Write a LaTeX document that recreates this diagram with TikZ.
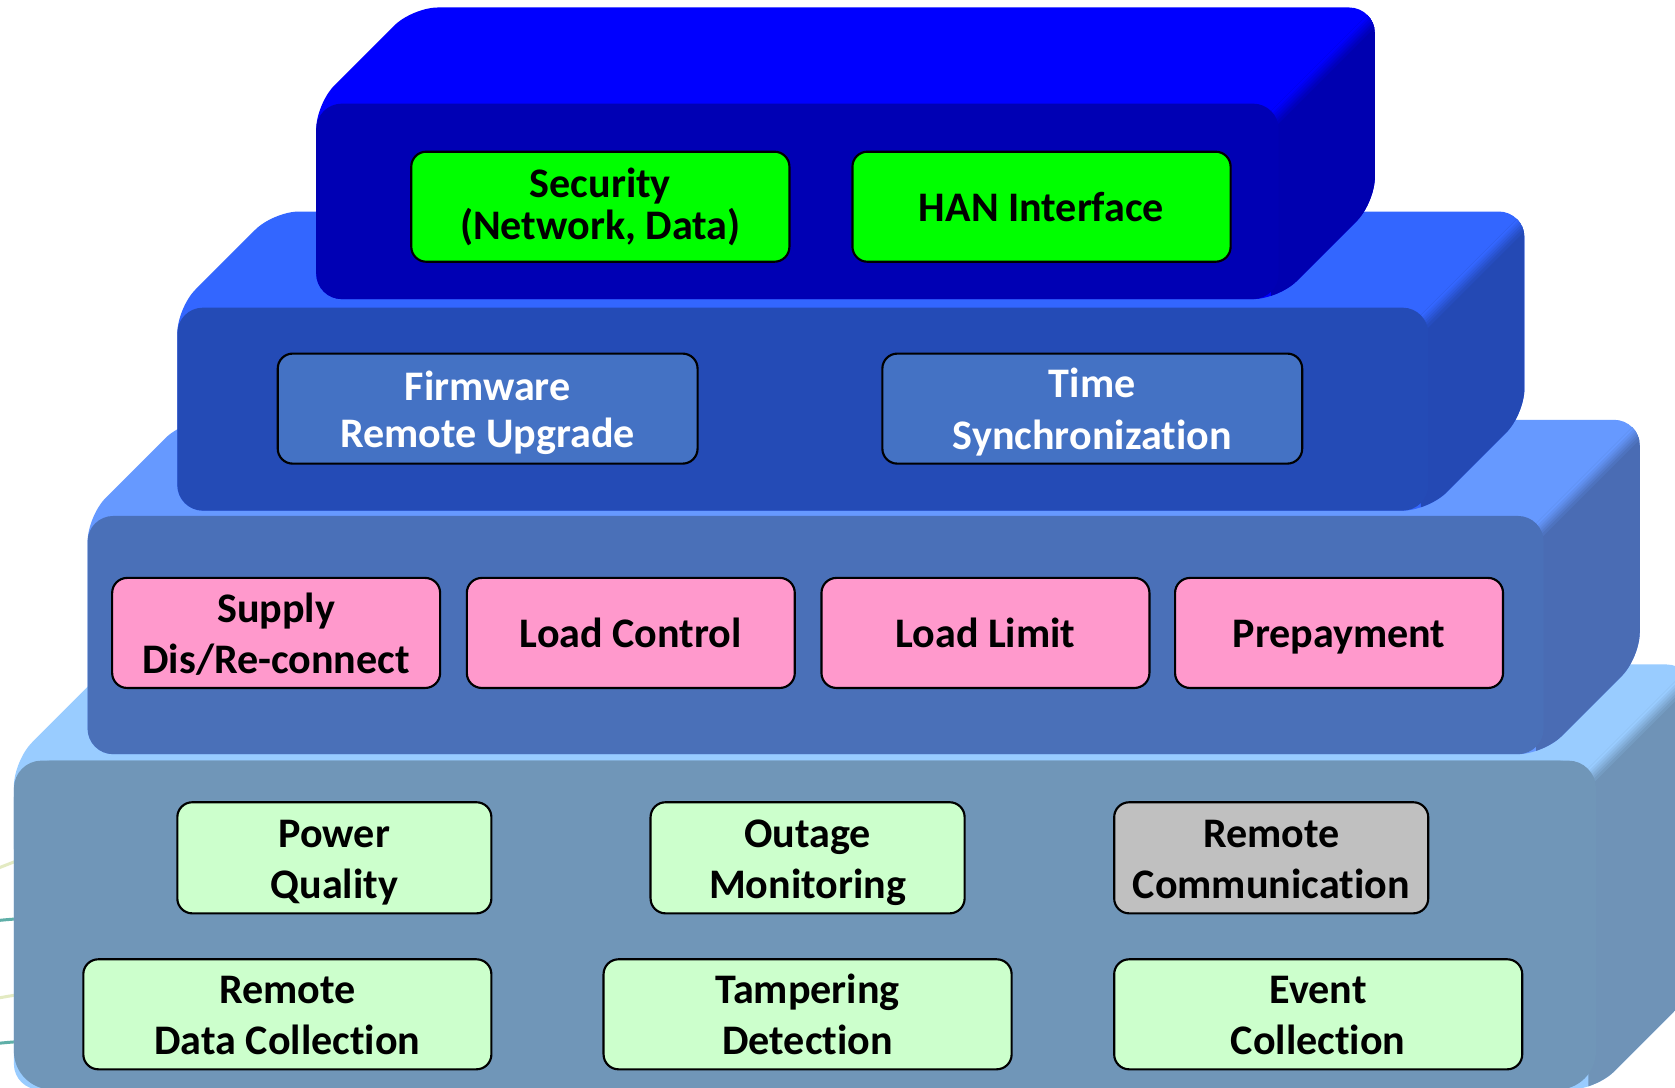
\documentclass[tikz,border=0pt]{standalone}
\usepackage{fontspec}
\setmainfont{Carlito}[Ligatures={NoCommon,NoContextual}]
\definecolor{topA}{HTML}{99CCFF}\definecolor{sideA}{HTML}{6F93B7}\definecolor{frontA}{HTML}{7096B8}
\definecolor{topB}{HTML}{6699FF}\definecolor{sideB}{HTML}{4A6CB4}\definecolor{frontB}{HTML}{4A70B8}
\definecolor{topC}{HTML}{3366FF}\definecolor{sideC}{HTML}{2449B4}\definecolor{frontC}{HTML}{244BB6}
\definecolor{topD}{HTML}{0000FF}\definecolor{sideD}{HTML}{0000B0}\definecolor{frontD}{HTML}{0000B4}
\definecolor{boxgreen}{HTML}{00FF00}
\definecolor{boxblue}{HTML}{4472C4}
\definecolor{boxpink}{HTML}{FF99CC}
\definecolor{boxlight}{HTML}{CCFFCC}
\definecolor{boxgray}{HTML}{C0C0C0}
\definecolor{lineyellow}{HTML}{E3EAC2}
\definecolor{lineteal}{HTML}{5FAFA8}
\newcommand\lnstrut{\rule[-10pt]{0pt}{48pt}}
% soft bevel band along the diagonal top edge of a right face
% #1 R, #2 T, #3 d, #4 top colour, #5 side colour
\newcommand\bevelband[5]{%
  \foreach \i in {0,...,5}{%
    \pgfmathtruncatemacro\pc{100-\i*17}%
    \pgfmathsetmacro\ca{#1+#2+\i*3}%
    \pgfmathsetmacro\cb{#1+#2+\i*3+3.6}%
    \fill[#4!\pc!#5] ({#1-30},{\ca-#1+30}) -- ({#1+#3+40},{\ca-#1-#3-40}) -- ({#1+#3+40},{\cb-#1-#3-40}) -- ({#1-30},{\cb-#1+30}) -- cycle;
  }%
}
% #1 L, #2 T, #3 R, #4 B, #5 top, #6 side, #7 front
\newcommand\drawlayer[7]{%
  \begin{scope}
    \fill[#5, rounded corners=24pt] (#1,#4) -- (#1,#2) -- ({#1+90},{#2-90}) -- ({#3+90},{#2-90}) -- ({#3+90},{#4-90}) -- (#3,#4) -- cycle;
    \clip[rounded corners=24pt] (#1,#4) -- (#1,#2) -- ({#1+90},{#2-90}) -- ({#3+90},{#2-90}) -- ({#3+90},{#4-90}) -- (#3,#4) -- cycle;
    \fill[#6] ({#3-7},{#2+7}) -- ({#3+110},{#2-110}) -- ({#3+110},#4) -- ({#3-7},#4) -- cycle;
    \bevelband{#3}{#2}{90}{#5}{#6}
  \end{scope}
  \fill[#7, rounded corners=24pt] (#1,#2) rectangle (#3,#4);
}
\begin{document}
\begin{tikzpicture}[x=1pt,y=-1pt,
  box/.style={draw=black, line width=2pt, rounded corners=14pt, align=center,
    font=\fontsize{39.4}{48}\selectfont\bfseries, inner sep=0pt, text=black},
  wbox/.style={box, text=white, fill=boxblue},
  edgeline/.style={line width=2.8pt, line cap=round}]
\useasboundingbox (0,0) rectangle (1568,1018);
\fill[white] (0,0) rectangle (1568,1018);
% faint background curves at the left edge
\draw[edgeline, lineyellow] (-5,814) .. controls (5,810) .. (18,805);
\draw[edgeline, lineteal] (-5,862) .. controls (5,861) .. (18,860);
\draw[edgeline, lineyellow] (-5,935) .. controls (5,933) .. (18,931);
\draw[edgeline, lineteal] (-5,977) .. controls (5,976) .. (18,975);
% layer 1 (bottom)
\begin{scope}
  \fill[topA, rounded corners=24pt] (13,1020) -- (13,712) -- (103,622) -- (1584,622) -- (1584,930) -- (1494,1020) -- cycle;
  \clip[rounded corners=24pt] (13,1020) -- (13,712) -- (103,622) -- (1584,622) -- (1584,930) -- (1494,1020) -- cycle;
  \fill[sideA] (1487,719) -- (1604,602) -- (1604,1030) -- (1487,1030) -- cycle;
  \bevelband{1494}{712}{90}{topA}{sideA}
\end{scope}
\fill[frontA, rounded corners=36pt] (13,712) rectangle (1494,1020);
\fill[frontA, rounded corners=26pt] (13,712) rectangle (1494,820);
% layer 2
\drawlayer{82}{483}{1445}{706}{topB}{sideB}{frontB}
% layer 3
\drawlayer{166}{288}{1337}{478}{topC}{sideC}{frontC}
% layer 4 (top)
\drawlayer{296}{97}{1197}{280}{topD}{sideD}{frontD}
% layer 4 boxes
\node[box, fill=boxgreen, minimum width=354pt, minimum height=103pt] (sec) at (562,193.5) {Security\\[-9pt](Network, Data)};
\node[box, fill=boxgreen, minimum width=354pt, minimum height=103pt] (han) at (975,193.5) {\lnstrut HAN Interface};
% layer 3 boxes
\node[wbox, minimum width=393pt, minimum height=103pt] (fw) at (456.5,382.5) {\lnstrut Firmware\\[-4pt]\lnstrut Remote Upgrade};
\node[wbox, minimum width=393pt, minimum height=103pt] (ts) at (1022.5,382.5) {\lnstrut Time\\\lnstrut Synchronization};
% layer 2 boxes
\node[box, fill=boxpink, minimum width=307pt, minimum height=103pt] (sup) at (258.5,592.5) {\lnstrut Supply\\\lnstrut Dis/Re-connect};
\node[box, fill=boxpink, minimum width=307pt, minimum height=103pt] (lc) at (590.5,592.5) {\lnstrut Load Control};
\node[box, fill=boxpink, minimum width=307pt, minimum height=103pt] (ll) at (922.5,592.5) {\lnstrut Load Limit};
\node[box, fill=boxpink, minimum width=307pt, minimum height=103pt] (pp) at (1253.5,592.5) {\lnstrut Prepayment};
% layer 1 boxes
\node[box, fill=boxlight, minimum width=294pt, minimum height=104pt] (pq) at (313,803) {\lnstrut Power\\\lnstrut Quality};
\node[box, fill=boxlight, minimum width=294pt, minimum height=104pt] (om) at (756,803) {\lnstrut Outage\\\lnstrut Monitoring};
\node[box, fill=boxgray, minimum width=294pt, minimum height=104pt] (rc) at (1190,803) {\lnstrut Remote\\\lnstrut Communication};
\node[box, fill=boxlight, minimum width=382pt, minimum height=103pt] (rdc) at (269,949.5) {\lnstrut Remote\\\lnstrut Data Collection};
\node[box, fill=boxlight, minimum width=382pt, minimum height=103pt] (td) at (756,949.5) {\lnstrut Tampering\\\lnstrut Detection};
\node[box, fill=boxlight, minimum width=382pt, minimum height=103pt] (ec) at (1234,949.5) {\lnstrut Event\\\lnstrut Collection};
\end{tikzpicture}
\end{document}
